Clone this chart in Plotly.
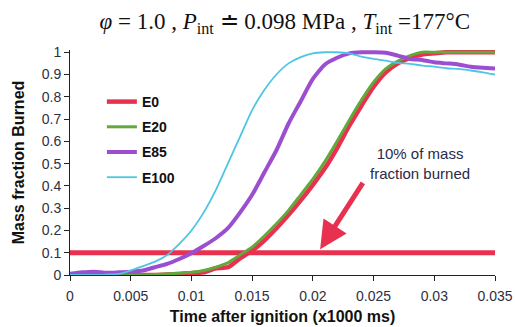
import plotly.graph_objects as go

# Time after ignition (x1000 ms)
time_s = [0.000, 0.001, 0.002, 0.003, 0.004, 0.005, 0.006, 0.007, 0.008, 0.009,
          0.010, 0.011, 0.012, 0.013, 0.014, 0.015, 0.016, 0.017, 0.018, 0.019,
          0.020, 0.021, 0.022, 0.023, 0.024, 0.025, 0.026, 0.027, 0.028, 0.029,
          0.030, 0.031, 0.032, 0.033, 0.034, 0.035]

# Mass fraction burned for each fuel blend
mfb_e0 = [0.0, 0.0, 0.0, 0.0, 0.0, 0.0, 0.0, 0.0, 0.002, 0.005,
          0.008, 0.012, 0.03, 0.035, 0.075, 0.11, 0.155, 0.21, 0.27, 0.335,
          0.405, 0.48, 0.57, 0.67, 0.76, 0.845, 0.91, 0.95, 0.975, 0.99,
          0.995, 1.0, 1.0, 1.0, 1.0, 1.0]
mfb_e20 = [0.0, 0.0, 0.0, 0.0, 0.0, 0.0, 0.0, 0.002, 0.005, 0.008,
           0.012, 0.02, 0.035, 0.055, 0.09, 0.125, 0.175, 0.23, 0.29, 0.36,
           0.43, 0.51, 0.6, 0.695, 0.785, 0.865, 0.925, 0.96, 0.985, 1.0,
           1.0, 1.0, 1.0, 1.0, 1.0, 1.0]
mfb_e85 = [0.005, 0.012, 0.015, 0.01, 0.012, 0.015, 0.02, 0.035, 0.05, 0.072,
           0.098, 0.13, 0.165, 0.21, 0.28, 0.36, 0.46, 0.56, 0.68, 0.78,
           0.88, 0.945, 0.975, 0.995, 1.0, 1.0, 0.998, 0.985, 0.97, 0.965,
           0.955, 0.95, 0.945, 0.935, 0.93, 0.927]
mfb_e100 = [0.0, 0.0, 0.0, 0.002, 0.005, 0.02, 0.04, 0.06, 0.09, 0.14,
            0.2, 0.28, 0.38, 0.5, 0.62, 0.74, 0.83, 0.9, 0.95, 0.978,
            0.995, 1.0, 1.0, 0.995, 0.98, 0.97, 0.962, 0.952, 0.948, 0.94,
            0.935, 0.928, 0.925, 0.918, 0.91, 0.9]

series_names = ["E0", "E20", "E85", "E100"]
series_colors = ["#e8304f", "#62a83a", "#9b4fd0", "#4cc6e4"]
series_widths = [4.5, 3, 4, 1.8]

threshold = 0.1
x_ticks = [0, 0.005, 0.01, 0.015, 0.02, 0.025, 0.03, 0.035]
x_tick_text = ["0", "0.005", "0.01", "0.015", "0.02", "0.025", "0.03", "0.035"]
y_ticks = [0, 0.1, 0.2, 0.3, 0.4, 0.5, 0.6, 0.7, 0.8, 0.9, 1]
y_tick_text = ["0", "0.1", "0.2", "0.3", "0.4", "0.5", "0.6", "0.7", "0.8", "0.9", "1"]

fig = go.Figure()

# 10 % burned reference line
fig.add_trace(go.Scatter(
    x=[time_s[0], time_s[-1]], y=[threshold, threshold], mode="lines",
    line=dict(color="#e8304f", width=5), showlegend=False, hoverinfo="skip"))

all_series = [mfb_e0, mfb_e20, mfb_e85, mfb_e100]
for i, (name, ys) in enumerate(zip(series_names, all_series)):
    fig.add_trace(go.Scatter(
        x=time_s, y=ys, mode="lines", name=name,
        legendgroup=name,
        line=dict(color=series_colors[i], width=series_widths[i], shape="spline",
                  smoothing=0.6)))

tick_font = dict(family="Liberation Sans, Arial, sans-serif", size=14, color="#2f2f3f")
title_font = dict(family="Liberation Sans, Arial, sans-serif", size=16, color="#111111",
                  weight="bold")

fig.update_layout(
    width=515, height=327,
    margin=dict(l=70, r=20, t=50, b=52),
    paper_bgcolor="white", plot_bgcolor="white",
    title=dict(
        text="<i>φ</i> = 1.0 , <i>P</i><sub>int</sub> ≐ 0.098 MPa , <i>T</i><sub>int</sub> =177°C",
        font=dict(family="Liberation Serif, Times New Roman, serif", size=23, color="#111111"),
        x=0.553, xanchor="center", xref="container",
        y=0.935, yanchor="middle", yref="container"),
    xaxis=dict(
        range=[0, 0.035], tickvals=x_ticks, ticktext=x_tick_text, automargin=False,
        showgrid=False, zeroline=False, showline=True, linecolor="#222222", linewidth=1,
        ticks="outside", ticklen=5, tickcolor="#222222", tickfont=tick_font,
        ticklabelstandoff=3,
        title=dict(text="Time after ignition (x1000 ms)", font=title_font, standoff=8)),
    yaxis=dict(
        range=[0, 1.01], tickvals=y_ticks, ticktext=y_tick_text, automargin=False,
        showgrid=False, zeroline=False, showline=True, linecolor="#222222", linewidth=1,
        ticks="outside", ticklen=5, tickcolor="#222222", tickfont=tick_font,
        title=dict(text="Mass fraction Burned", font=title_font, standoff=13)),
    legend=dict(
        x=0.075, y=0.84, xanchor="left", yanchor="top",
        bgcolor="rgba(0,0,0,0)", borderwidth=0,
        font=dict(family="Liberation Sans, Arial, sans-serif", size=14, color="#111111",
                  weight="bold"),
        traceorder="grouped", tracegroupgap=4, itemwidth=30),
    showlegend=True,
)

# callout arrow pointing at the 10 % line
fig.add_annotation(
    x=0.0206, y=0.116, ax=0.0242, ay=0.42, xref="x", yref="y", axref="x", ayref="y",
    text="", showarrow=True, arrowhead=2, arrowsize=1.1, arrowwidth=5,
    arrowcolor="#e8304f")
fig.add_annotation(
    x=0.02885, y=0.50, xref="x", yref="y", showarrow=False,
    text="10% of mass<br>fraction burned", align="center",
    font=dict(family="Liberation Sans, Arial, sans-serif", size=15, color="#2a2a48"))

fig.write_html("out.html")
